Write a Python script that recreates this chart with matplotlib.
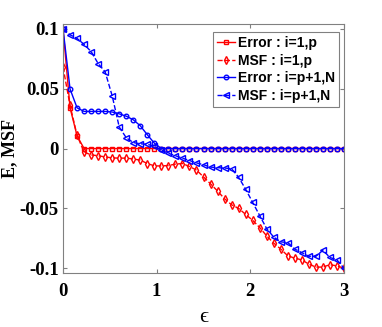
import numpy as np
import matplotlib
matplotlib.use("Agg")
import matplotlib.pyplot as plt

# grid of epsilon values (41 points, step 0.075)
eps = np.round(np.arange(41) * 0.075, 3)

err_1p = [0.1, 0.034, 0.0106] + [0.0] * 38

msf_1p = [0.068, 0.036, 0.011, -0.003, -0.0053, -0.006, -0.007, -0.0078, -0.008, -0.008,
          -0.0087, -0.0097, -0.0125, -0.0145, -0.0145, -0.0142, -0.013, -0.0125, -0.015, -0.018,
          -0.0237, -0.0295, -0.0355, -0.042, -0.047, -0.050, -0.055, -0.060, -0.066, -0.073,
          -0.079, -0.084, -0.0896, -0.0916, -0.093, -0.0966, -0.099, -0.099, -0.097, -0.098,
          -0.1]

err_pN = [0.1, 0.0497, 0.034, 0.031, 0.031, 0.031, 0.031, 0.0305, 0.029, 0.027,
          0.024, 0.019, 0.0115, 0.0045] + [0.0] * 27

msf_pN = [0.1, 0.095, 0.092, 0.087, 0.081, 0.071, 0.064, 0.044, 0.018, 0.009,
          0.005, 0.004, 0.0035, 0.002, -0.0013, -0.004, -0.006, -0.008, -0.010, -0.012,
          -0.0135, -0.0155, -0.016, -0.0163, -0.0168, -0.024, -0.034, -0.045, -0.056, -0.067,
          -0.074, -0.078, -0.0785, -0.084, -0.087, -0.090, -0.090, -0.085, -0.091, -0.093,
          -0.1]

xticks = [0, 1, 2, 3]
yticks = [-0.1, -0.05, 0, 0.05, 0.1]
yticklabels = ["-0.1", "-0.05", "0", "0.05", "0.1"]

plt.rcParams["axes.unicode_minus"] = False

fig = plt.figure(figsize=(3.82, 3.27), dpi=100)
ax = fig.add_axes([0.165, 0.165, 0.7355, 0.7615])

ms = 3.3
ax.plot(eps, err_1p, "-", color="red", marker="s", ms=ms, mfc="none", lw=1,
        label="Error : i=1,p")
ax.plot(eps, msf_1p, "--", color="red", marker="d", ms=ms + 0.5, mfc="none", lw=1,
        label="MSF : i=1,p")
ax.plot(eps, err_pN, "-", color="blue", marker="o", ms=ms, mfc="none", lw=1,
        label="Error : i=p+1,N")
ax.plot(eps, msf_pN, "--", color="blue", marker="<", ms=ms + 0.5, mfc="none", lw=1,
        label="MSF : i=p+1,N")

ax.set_xlim(0, 3)
ax.set_ylim(-0.104, 0.104)
ax.set_xticks(xticks)
ax.set_xticklabels([str(t) for t in xticks])
ax.set_yticks(yticks)
ax.set_yticklabels(yticklabels)

for s in ax.spines.values():
    s.set_color("0.5")
    s.set_linewidth(0.8)
ax.tick_params(direction="in", top=True, right=True, color="0.5", length=3)
ax.tick_params(axis="x", pad=7)
ax.tick_params(axis="y", pad=3)
for lab in ax.get_xticklabels() + ax.get_yticklabels():
    lab.set_fontfamily("Liberation Serif")
    lab.set_fontweight("bold")
    lab.set_fontsize(13.5)

ax.set_ylabel("E, MSF", fontfamily="Liberation Serif", fontweight="bold", fontsize=13)
ax.yaxis.set_label_coords(-0.16, 0.5)
ax.set_xlabel("\u03f5", fontfamily=["Liberation Serif", "DejaVu Serif"], fontsize=16)
ax.xaxis.set_label_coords(0.5, -0.14)

leg = ax.legend(loc="upper right", bbox_to_anchor=(0.982, 0.968), borderaxespad=0,
                fancybox=False, framealpha=1, edgecolor="0.5", numpoints=1,
                handlelength=1.3, handletextpad=0.2, labelspacing=0.25,
                borderpad=0.3, prop={"family": "Liberation Sans", "weight": "bold", "size": 10})
leg.get_frame().set_linewidth(0.8)

fig.savefig("out.png", dpi=100)
